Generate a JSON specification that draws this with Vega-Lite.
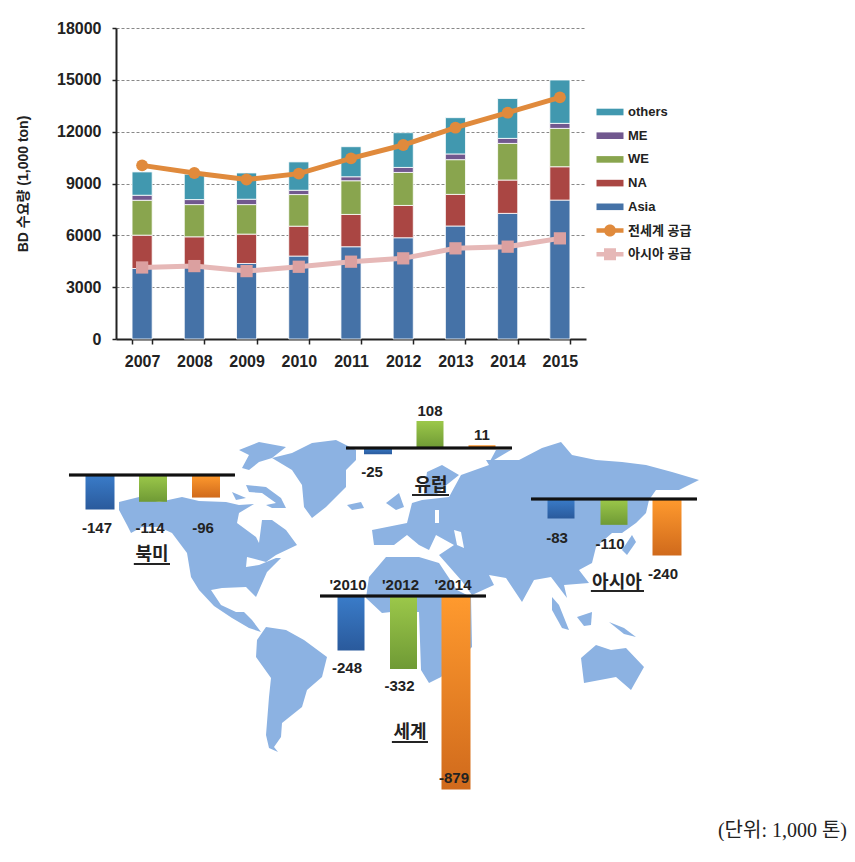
{"$schema":"https://vega.github.io/schema/vega-lite/v6.json","background":"white","padding":{"left":16,"top":20,"right":0,"bottom":0},"spacing":16,"config":{"view":{"stroke":null},"text":{"font":"Liberation Sans, Noto Sans CJK KR"}},
"datasets":{
"demand":[
{"year":2007,"series":"Asia","rank":1,"value":4080},{"year":2007,"series":"NA","rank":2,"value":1930},{"year":2007,"series":"WE","rank":3,"value":2020},{"year":2007,"series":"ME","rank":4,"value":290},{"year":2007,"series":"others","rank":5,"value":1350},
{"year":2008,"series":"Asia","rank":1,"value":4180},{"year":2008,"series":"NA","rank":2,"value":1735},{"year":2008,"series":"WE","rank":3,"value":1865},{"year":2008,"series":"ME","rank":4,"value":290},{"year":2008,"series":"others","rank":5,"value":1470},
{"year":2009,"series":"Asia","rank":1,"value":4370},{"year":2009,"series":"NA","rank":2,"value":1700},{"year":2009,"series":"WE","rank":3,"value":1710},{"year":2009,"series":"ME","rank":4,"value":310},{"year":2009,"series":"others","rank":5,"value":1520},
{"year":2010,"series":"Asia","rank":1,"value":4800},{"year":2010,"series":"NA","rank":2,"value":1730},{"year":2010,"series":"WE","rank":3,"value":1830},{"year":2010,"series":"ME","rank":4,"value":250},{"year":2010,"series":"others","rank":5,"value":1640},
{"year":2011,"series":"Asia","rank":1,"value":5340},{"year":2011,"series":"NA","rank":2,"value":1870},{"year":2011,"series":"WE","rank":3,"value":1950},{"year":2011,"series":"ME","rank":4,"value":230},{"year":2011,"series":"others","rank":5,"value":1740},
{"year":2012,"series":"Asia","rank":1,"value":5860},{"year":2012,"series":"NA","rank":2,"value":1870},{"year":2012,"series":"WE","rank":3,"value":1910},{"year":2012,"series":"ME","rank":4,"value":290},{"year":2012,"series":"others","rank":5,"value":2010},
{"year":2013,"series":"Asia","rank":1,"value":6540},{"year":2013,"series":"NA","rank":2,"value":1830},{"year":2013,"series":"WE","rank":3,"value":2010},{"year":2013,"series":"ME","rank":4,"value":330},{"year":2013,"series":"others","rank":5,"value":2100},
{"year":2014,"series":"Asia","rank":1,"value":7270},{"year":2014,"series":"NA","rank":2,"value":1930},{"year":2014,"series":"WE","rank":3,"value":2120},{"year":2014,"series":"ME","rank":4,"value":290},{"year":2014,"series":"others","rank":5,"value":2310},
{"year":2015,"series":"Asia","rank":1,"value":8040},{"year":2015,"series":"NA","rank":2,"value":1930},{"year":2015,"series":"WE","rank":3,"value":2220},{"year":2015,"series":"ME","rank":4,"value":290},{"year":2015,"series":"others","rank":5,"value":2510}],
"supply":[
{"year":2007,"series":"전세계 공급","value":10050},{"year":2008,"series":"전세계 공급","value":9610},{"year":2009,"series":"전세계 공급","value":9230},{"year":2010,"series":"전세계 공급","value":9570},{"year":2011,"series":"전세계 공급","value":10455},{"year":2012,"series":"전세계 공급","value":11227},{"year":2013,"series":"전세계 공급","value":12230},{"year":2014,"series":"전세계 공급","value":13098},{"year":2015,"series":"전세계 공급","value":13985},
{"year":2007,"series":"아시아 공급","value":4140},{"year":2008,"series":"아시아 공급","value":4220},{"year":2009,"series":"아시아 공급","value":3930},{"year":2010,"series":"아시아 공급","value":4180},{"year":2011,"series":"아시아 공급","value":4475},{"year":2012,"series":"아시아 공급","value":4668},{"year":2013,"series":"아시아 공급","value":5247},{"year":2014,"series":"아시아 공급","value":5343},{"year":2015,"series":"아시아 공급","value":5825}],
"gaps":[
{"region":"북미","year":2010,"label":"'2010","value":-147,"shown":"-147"},{"region":"북미","year":2012,"label":"'2012","value":-114,"shown":"-114"},{"region":"북미","year":2014,"label":"'2014","value":-96,"shown":"-96"},
{"region":"유럽","year":2010,"label":"'2010","value":-25,"shown":"-25"},{"region":"유럽","year":2012,"label":"'2012","value":108,"shown":"108"},{"region":"유럽","year":2014,"label":"'2014","value":11,"shown":"11"},
{"region":"아시아","year":2010,"label":"'2010","value":-83,"shown":"-83"},{"region":"아시아","year":2012,"label":"'2012","value":-110,"shown":"-110"},{"region":"아시아","year":2014,"label":"'2014","value":-240,"shown":"-240"},
{"region":"세계","year":2010,"label":"'2010","value":-248,"shown":"-248"},{"region":"세계","year":2012,"label":"'2012","value":-332,"shown":"-332"},{"region":"세계","year":2014,"label":"'2014","value":-879,"shown":"-879"}],
"continents":[
{"type":"Feature","properties":{"name":"North America"},"geometry":{"type":"Polygon","coordinates":[[[120,502],[140,497],[160,502],[183,497],[200,501],[227,502],[240,505],[255,504],[240,513],[238,523],[257,537],[260,543],[263,520],[273,520],[287,530],[298,545],[277,555],[267,562],[248,557],[247,567],[260,565],[277,558],[282,558],[268,572],[257,597],[247,587],[223,588],[212,590],[222,605],[237,612],[245,612],[253,620],[262,632],[250,628],[233,618],[215,606],[200,590],[192,577],[188,553],[173,533],[160,527],[143,527],[132,533],[128,525],[120,510],[120,502]]]}},
{"type":"Feature","properties":{"name":"Baffin"},"geometry":{"type":"Polygon","coordinates":[[[247,485],[267,487],[282,498],[287,508],[273,508],[267,505],[277,503],[263,493],[250,492],[247,485]]]}},
{"type":"Feature","properties":{"name":"Ellesmere"},"geometry":{"type":"Polygon","coordinates":[[[240,450],[260,442],[287,447],[273,458],[260,462],[250,470],[243,468],[250,455],[240,450]]]}},
{"type":"Feature","properties":{"name":"Victoria"},"geometry":{"type":"Polygon","coordinates":[[[233,492],[247,498],[237,500],[233,492]]]}},
{"type":"Feature","properties":{"name":"Greenland"},"geometry":{"type":"Polygon","coordinates":[[[273,458],[293,453],[313,443],[337,440],[357,450],[357,460],[347,470],[347,487],[327,507],[313,518],[305,507],[303,485],[293,470],[273,458]]]}},
{"type":"Feature","properties":{"name":"Iceland"},"geometry":{"type":"Polygon","coordinates":[[[348,505],[362,502],[365,508],[353,510],[348,505]]]}},
{"type":"Feature","properties":{"name":"South America"},"geometry":{"type":"Polygon","coordinates":[[[267,627],[287,630],[305,640],[328,657],[323,677],[308,690],[303,707],[283,723],[282,737],[275,747],[279,752],[270,748],[267,735],[270,697],[272,678],[257,657],[258,640],[267,627]]]}},
{"type":"Feature","properties":{"name":"Britain"},"geometry":{"type":"Polygon","coordinates":[[[387,503],[400,493],[405,507],[397,510],[387,503]]]}},
{"type":"Feature","properties":{"name":"Scandinavia"},"geometry":{"type":"Polygon","coordinates":[[[428,472],[443,465],[460,475],[445,487],[437,495],[425,495],[428,472]]]}},
{"type":"Feature","properties":{"name":"Eurasia"},"geometry":{"type":"Polygon","coordinates":[[[373,530],[375,545],[395,545],[408,535],[420,545],[430,550],[437,535],[455,545],[440,555],[462,580],[473,595],[495,585],[490,575],[507,578],[523,602],[535,580],[552,577],[568,598],[565,585],[590,583],[580,570],[593,563],[597,547],[613,533],[623,533],[637,523],[647,513],[650,500],[657,490],[680,490],[700,480],[673,472],[647,465],[623,462],[597,460],[573,455],[562,442],[543,448],[520,460],[487,460],[490,465],[462,475],[450,497],[423,500],[413,503],[408,523],[373,530]],[[436,510],[440,510],[440,523],[436,523],[436,510]],[[455,530],[462,532],[465,548],[458,545],[455,530]]]}},
{"type":"Feature","properties":{"name":"Novaya Zemlya"},"geometry":{"type":"Polygon","coordinates":[[[497,450],[512,450],[490,463],[497,450]]]}},
{"type":"Feature","properties":{"name":"Japan"},"geometry":{"type":"Polygon","coordinates":[[[623,550],[633,535],[637,542],[628,555],[623,550]]]}},
{"type":"Feature","properties":{"name":"Africa"},"geometry":{"type":"Polygon","coordinates":[[[387,557],[420,557],[440,563],[458,590],[472,597],[473,647],[442,677],[430,683],[422,670],[420,612],[392,612],[383,613],[367,598],[370,577],[387,557]]]}},
{"type":"Feature","properties":{"name":"Sumatra"},"geometry":{"type":"Polygon","coordinates":[[[553,597],[560,605],[570,630],[563,628],[553,610],[553,597]]]}},
{"type":"Feature","properties":{"name":"Borneo"},"geometry":{"type":"Polygon","coordinates":[[[578,617],[593,612],[592,625],[585,626],[578,617]]]}},
{"type":"Feature","properties":{"name":"New Guinea"},"geometry":{"type":"Polygon","coordinates":[[[610,622],[625,628],[637,637],[625,634],[610,622]]]}},
{"type":"Feature","properties":{"name":"Australia"},"geometry":{"type":"Polygon","coordinates":[[[582,658],[597,645],[612,650],[627,648],[645,667],[632,690],[617,677],[585,683],[582,658]]]}}
]},
"vconcat":[
{"width":470,"height":311,
"layer":[
{"data":{"name":"demand"},"mark":{"type":"bar","stroke":"#ffffff","strokeWidth":0.8},"encoding":{
"x":{"field":"year","type":"ordinal","title":null,"scale":{"paddingInner":0.615,"paddingOuter":0.3075},"axis":{"labelAngle":0,"labelFont":"Liberation Sans","labelFontWeight":"bold","labelFontSize":16,"labelColor":"#222222","labelPadding":9,"tickBand":"extent","tickSize":5,"tickWidth":1.5,"tickColor":"#222222","domainColor":"#222222","domainWidth":2}},
"y":{"field":"value","type":"quantitative","stack":"zero","scale":{"domain":[0,18000],"nice":false},"title":"BD 수요량 (1,000 ton)","axis":{"values":[0,3000,6000,9000,12000,15000,18000],"format":"d","labelFont":"Liberation Sans","labelFontWeight":"bold","labelFontSize":16,"labelColor":"#222222","labelPadding":11,"tickSize":4,"tickWidth":1.5,"tickColor":"#222222","domainColor":"#222222","domainWidth":2,"grid":true,"gridColor":"#888888","gridDash":[3,2],"gridWidth":1,"titleFont":"Liberation Sans, Noto Sans CJK KR","titleFontWeight":"bold","titleFontSize":14,"titleColor":"#222222","titlePadding":26}},
"order":{"field":"rank","type":"quantitative"},
"color":{"field":"series","type":"nominal","scale":{"domain":["others","ME","WE","NA","Asia","전세계 공급","아시아 공급"],"range":["#4198af","#71588f","#89a54e","#aa4643","#4572a7","#e08a3c","#e6b8b7"]},
"legend":{"title":null,"orient":"none","legendX":484,"legendY":74,"padding":0,"symbolSize":400,"symbolStrokeWidth":0,"rowPadding":6.7,"labelOffset":8,"labelFont":"Liberation Sans, Noto Sans CJK KR","labelFontSize":13,"labelFontWeight":"bold","labelColor":"#222222",
"encoding":{"symbols":{"shape":{"value":{"expr":"datum.value==='전세계 공급' ? 'M-1.35,-0.22H1.35V0.22H-1.35Z M-0.6,0A0.6,0.6 0 1 1 0.6,0A0.6,0.6 0 1 1 -0.6,0Z' : datum.value==='아시아 공급' ? 'M-1.35,-0.22H1.35V0.22H-1.35Z M-0.6,-0.6H0.6V0.6H-0.6Z' : 'M-1.35,-0.33H1.35V0.33H-1.35Z'"}},"fill":{"value":{"expr":"{'others':'#4198af','ME':'#71588f','WE':'#89a54e','NA':'#aa4643','Asia':'#4572a7','전세계 공급':'#e08a3c','아시아 공급':'#dfa5a5'}[datum.value]"}},"stroke":{"value":"transparent"},"opacity":{"value":1}}}}}
}},
{"data":{"name":"supply"},"mark":{"type":"line","strokeWidth":5},"encoding":{"x":{"field":"year","type":"ordinal"},"y":{"field":"value","type":"quantitative"},"color":{"field":"series","type":"nominal"}}},
{"data":{"name":"supply"},"transform":[{"filter":{"field":"series","equal":"전세계 공급"}}],"mark":{"type":"point","filled":true,"shape":"circle","size":140,"color":"#e08a3c","opacity":1},"encoding":{"x":{"field":"year","type":"ordinal"},"y":{"field":"value","type":"quantitative"}}},
{"data":{"name":"supply"},"transform":[{"filter":{"field":"series","equal":"아시아 공급"}}],"mark":{"type":"point","filled":true,"shape":"square","size":150,"color":"#dba0a0","opacity":1},"encoding":{"x":{"field":"year","type":"ordinal"},"y":{"field":"value","type":"quantitative"}}}
]},
{"width":731,"height":430,"title":{"text":"(단위: 1,000 톤)","orient":"bottom","anchor":"end","font":"Liberation Serif, Noto Sans CJK KR","fontSize":20,"fontWeight":"normal","color":"#222222","offset":6},
"resolve":{"scale":{"x":"independent","y":"independent"}},
"projection":{"type":"identity","scale":1,"translate":[-117,-385]},
"layer":[
{"data":{"name":"continents"},"mark":{"type":"geoshape","fill":"#8cb2e2","stroke":null}},
{"data":{"name":"gaps"},"transform":[{"filter":{"field":"region","equal":"북미"}}],
"encoding":{"x":{"field":"year","type":"quantitative","axis":null,"scale":{"domain":[2010,2014],"range":[-16,90],"nice":false,"zero":false,"padding":0}},"y":{"field":"value","type":"quantitative","axis":null,"stack":null,"scale":{"domain":[-1000,1000],"range":[325,-145],"nice":false}}},
"layer":[
{"transform":[{"filter":{"field":"year","equal":2010}}],"mark":{"type":"bar","orient":"vertical","size":29,"fill":{"gradient":"linear","x1":0,"y1":0,"x2":0,"y2":1,"stops":[{"offset":0,"color":"#3a7cc9"},{"offset":1,"color":"#2a5a9c"}]}}},
{"transform":[{"filter":{"field":"year","equal":2012}}],"mark":{"type":"bar","orient":"vertical","size":28,"fill":{"gradient":"linear","x1":0,"y1":0,"x2":0,"y2":1,"stops":[{"offset":0,"color":"#9cc84a"},{"offset":1,"color":"#6f9a35"}]}}},
{"transform":[{"filter":{"field":"year","equal":2014}}],"mark":{"type":"bar","orient":"vertical","size":28,"fill":{"gradient":"linear","x1":0,"y1":0,"x2":0,"y2":1,"stops":[{"offset":0,"color":"#ff9a2e"},{"offset":1,"color":"#d06a1c"}]}}},
{"mark":{"type":"rule","color":"#111111","strokeWidth":2.5},"encoding":{"x":{"datum":2008.83,"type":"quantitative"},"x2":{"datum":2015.09},"y":{"datum":0,"type":"quantitative"}}},
{"mark":{"type":"text","fontSize":15,"fontWeight":"bold","color":"#222222","dx":-3},"encoding":{"y":{"datum":-225,"type":"quantitative"},"text":{"field":"shown","type":"nominal"}}},
{"transform":[{"filter":{"field":"year","equal":2010}}],"mark":{"type":"text","fontSize":18,"fontWeight":"bold","font":"Noto Sans CJK KR","color":"#222222"},"encoding":{"x":{"datum":2011.96,"type":"quantitative"},"y":{"datum":-340,"type":"quantitative"},"text":{"field":"region","type":"nominal"}}},
{"mark":{"type":"rule","color":"#222222","strokeWidth":1.5},"encoding":{"x":{"datum":2011.28,"type":"quantitative"},"x2":{"datum":2012.64},"y":{"datum":-379,"type":"quantitative"}}}
]},
{"data":{"name":"gaps"},"transform":[{"filter":{"field":"region","equal":"유럽"}}],
"encoding":{"x":{"field":"year","type":"quantitative","axis":null,"scale":{"domain":[2010,2014],"range":[262,366],"nice":false,"zero":false,"padding":0}},"y":{"field":"value","type":"quantitative","axis":null,"stack":null,"scale":{"domain":[-1000,1000],"range":[313,-187],"nice":false}}},
"layer":[
{"transform":[{"filter":{"field":"year","equal":2010}}],"mark":{"type":"bar","orient":"vertical","size":28,"fill":{"gradient":"linear","x1":0,"y1":0,"x2":0,"y2":1,"stops":[{"offset":0,"color":"#3a7cc9"},{"offset":1,"color":"#2a5a9c"}]}}},
{"transform":[{"filter":{"field":"year","equal":2012}}],"mark":{"type":"bar","orient":"vertical","size":27,"fill":{"gradient":"linear","x1":0,"y1":0,"x2":0,"y2":1,"stops":[{"offset":0,"color":"#9cc84a"},{"offset":1,"color":"#6f9a35"}]}}},
{"transform":[{"filter":{"field":"year","equal":2014}}],"mark":{"type":"bar","orient":"vertical","size":27,"fill":{"gradient":"linear","x1":0,"y1":0,"x2":0,"y2":1,"stops":[{"offset":0,"color":"#ff9a2e"},{"offset":1,"color":"#d06a1c"}]}}},
{"mark":{"type":"rule","color":"#111111","strokeWidth":2.5},"encoding":{"x":{"datum":2008.77,"type":"quantitative"},"x2":{"datum":2015.15},"y":{"datum":0,"type":"quantitative"}}},
{"transform":[{"filter":"datum.value>0"}],"mark":{"type":"text","fontSize":15,"fontWeight":"bold","color":"#222222","dy":-10},"encoding":{"text":{"field":"shown","type":"nominal"}}},
{"transform":[{"filter":"datum.value<0"}],"mark":{"type":"text","fontSize":15,"fontWeight":"bold","color":"#222222","dy":18,"dx":-6},"encoding":{"text":{"field":"shown","type":"nominal"}}},
{"transform":[{"filter":{"field":"year","equal":2010}}],"mark":{"type":"text","fontSize":18,"fontWeight":"bold","font":"Noto Sans CJK KR","color":"#222222"},"encoding":{"x":{"datum":2012.04,"type":"quantitative"},"y":{"datum":-152,"type":"quantitative"},"text":{"field":"region","type":"nominal"}}},
{"mark":{"type":"rule","color":"#222222","strokeWidth":1.5},"encoding":{"x":{"datum":2011.31,"type":"quantitative"},"x2":{"datum":2012.73},"y":{"datum":-188,"type":"quantitative"}}}
]},
{"data":{"name":"gaps"},"transform":[{"filter":{"field":"region","equal":"아시아"}}],
"encoding":{"x":{"field":"year","type":"quantitative","axis":null,"scale":{"domain":[2010,2014],"range":[445,551],"nice":false,"zero":false,"padding":0}},"y":{"field":"value","type":"quantitative","axis":null,"stack":null,"scale":{"domain":[-1000,1000],"range":[349,-121],"nice":false}}},
"layer":[
{"transform":[{"filter":{"field":"year","equal":2010}}],"mark":{"type":"bar","orient":"vertical","size":27,"fill":{"gradient":"linear","x1":0,"y1":0,"x2":0,"y2":1,"stops":[{"offset":0,"color":"#3a7cc9"},{"offset":1,"color":"#2a5a9c"}]}}},
{"transform":[{"filter":{"field":"year","equal":2012}}],"mark":{"type":"bar","orient":"vertical","size":27,"fill":{"gradient":"linear","x1":0,"y1":0,"x2":0,"y2":1,"stops":[{"offset":0,"color":"#9cc84a"},{"offset":1,"color":"#6f9a35"}]}}},
{"transform":[{"filter":{"field":"year","equal":2014}}],"mark":{"type":"bar","orient":"vertical","size":29,"fill":{"gradient":"linear","x1":0,"y1":0,"x2":0,"y2":1,"stops":[{"offset":0,"color":"#ff9a2e"},{"offset":1,"color":"#d06a1c"}]}}},
{"mark":{"type":"rule","color":"#111111","strokeWidth":2.5},"encoding":{"x":{"datum":2008.87,"type":"quantitative"},"x2":{"datum":2015.13},"y":{"datum":0,"type":"quantitative"}}},
{"mark":{"type":"text","fontSize":15,"fontWeight":"bold","color":"#222222","dy":19,"dx":-4},"encoding":{"text":{"field":"shown","type":"nominal"}}},
{"transform":[{"filter":{"field":"year","equal":2010}}],"mark":{"type":"text","fontSize":18,"fontWeight":"bold","font":"Noto Sans CJK KR","color":"#222222"},"encoding":{"x":{"datum":2012.11,"type":"quantitative"},"y":{"datum":-357,"type":"quantitative"},"text":{"field":"region","type":"nominal"}}},
{"mark":{"type":"rule","color":"#222222","strokeWidth":1.5},"encoding":{"x":{"datum":2011.13,"type":"quantitative"},"x2":{"datum":2013.13},"y":{"datum":-391,"type":"quantitative"}}}
]},
{"data":{"name":"gaps"},"transform":[{"filter":{"field":"region","equal":"세계"}}],
"encoding":{"x":{"field":"year","type":"quantitative","axis":null,"scale":{"domain":[2010,2014],"range":[235,340],"nice":false,"zero":false,"padding":0}},"y":{"field":"value","type":"quantitative","axis":null,"stack":null,"scale":{"domain":[-1000,1000],"range":[431,-9],"nice":false}}},
"layer":[
{"transform":[{"filter":{"field":"year","equal":2010}}],"mark":{"type":"bar","orient":"vertical","size":27,"fill":{"gradient":"linear","x1":0,"y1":0,"x2":0,"y2":1,"stops":[{"offset":0,"color":"#3a7cc9"},{"offset":1,"color":"#2a5a9c"}]}}},
{"transform":[{"filter":{"field":"year","equal":2012}}],"mark":{"type":"bar","orient":"vertical","size":27,"fill":{"gradient":"linear","x1":0,"y1":0,"x2":0,"y2":1,"stops":[{"offset":0,"color":"#9cc84a"},{"offset":1,"color":"#6f9a35"}]}}},
{"transform":[{"filter":{"field":"year","equal":2014}}],"mark":{"type":"bar","orient":"vertical","size":29,"fill":{"gradient":"linear","x1":0,"y1":0,"x2":0,"y2":1,"stops":[{"offset":0,"color":"#ff9a2e"},{"offset":1,"color":"#d06a1c"}]}}},
{"mark":{"type":"rule","color":"#111111","strokeWidth":2.5},"encoding":{"x":{"datum":2008.82,"type":"quantitative"},"x2":{"datum":2015.14},"y":{"datum":0,"type":"quantitative"}}},
{"transform":[{"filter":"datum.value>-500"}],"mark":{"type":"text","fontSize":15,"fontWeight":"bold","color":"#222222","dy":17,"dx":-4},"encoding":{"text":{"field":"shown","type":"nominal"}}},
{"transform":[{"filter":"datum.value<-500"}],"mark":{"type":"text","fontSize":15,"fontWeight":"bold","color":"#222222","dy":-11,"dx":-2},"encoding":{"text":{"field":"shown","type":"nominal"}}},
{"mark":{"type":"text","fontSize":15,"fontWeight":"bold","color":"#222222","dx":-3},"encoding":{"y":{"datum":50,"type":"quantitative"},"text":{"field":"label","type":"nominal"}}},
{"transform":[{"filter":{"field":"year","equal":2010}}],"mark":{"type":"text","fontSize":18,"fontWeight":"bold","font":"Noto Sans CJK KR","color":"#222222"},"encoding":{"x":{"datum":2012.25,"type":"quantitative"},"y":{"datum":-623,"type":"quantitative"},"text":{"field":"region","type":"nominal"}}},
{"mark":{"type":"rule","color":"#222222","strokeWidth":1.5},"encoding":{"x":{"datum":2011.56,"type":"quantitative"},"x2":{"datum":2012.93},"y":{"datum":-664,"type":"quantitative"}}}
]}
]}
]}
